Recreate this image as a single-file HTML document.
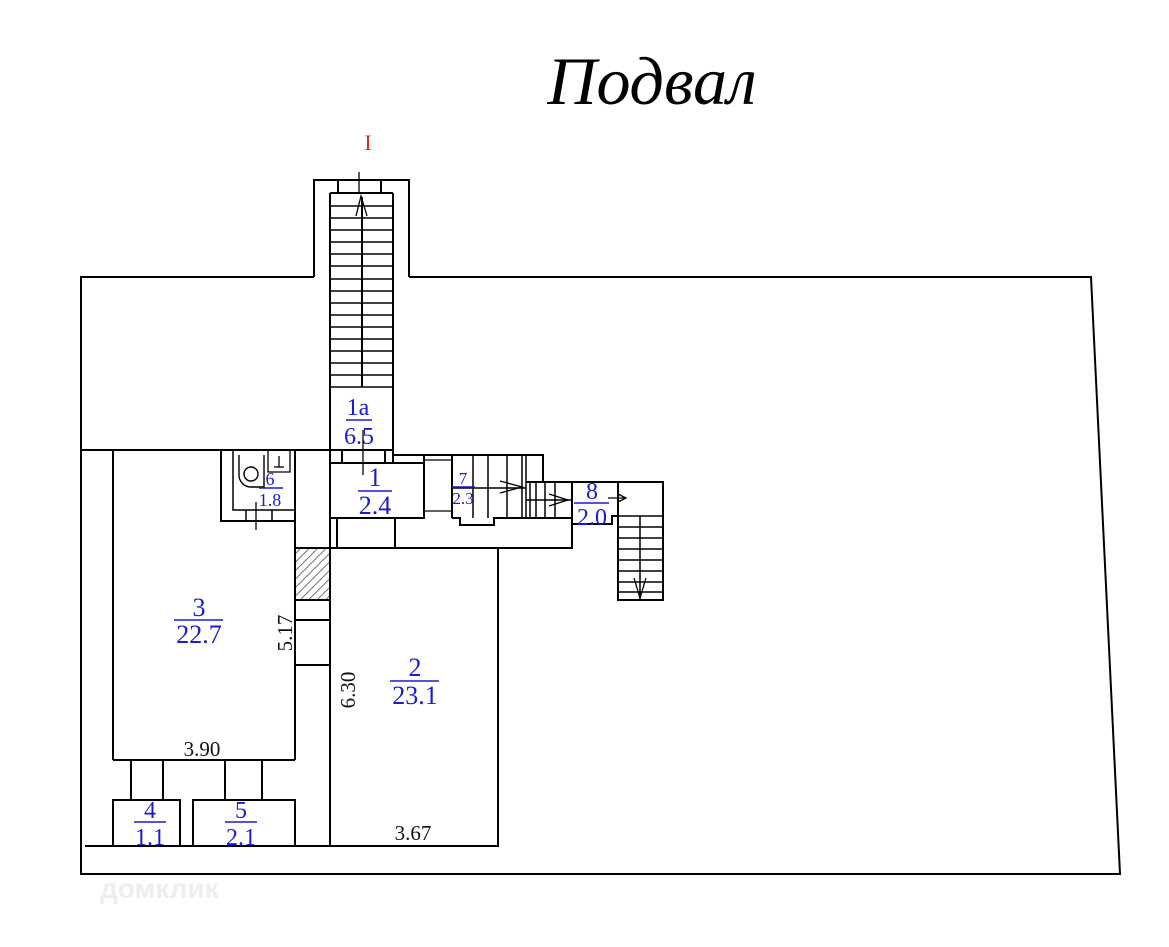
<!DOCTYPE html>
<html><head><meta charset="utf-8"><style>
html,body{margin:0;padding:0;background:#fff}
svg{display:block}
.b{font-family:"Liberation Serif",serif;fill:#1a1ad8;text-anchor:middle}
.k{font-family:"Liberation Serif",serif;fill:#111;text-anchor:middle}
</style></head><body>
<svg width="1169" height="947" viewBox="0 0 1169 947" xmlns="http://www.w3.org/2000/svg">
<defs><pattern id="h" width="6" height="6" patternUnits="userSpaceOnUse" patternTransform="rotate(45)"><line x1="0" y1="0" x2="0" y2="6" stroke="#222" stroke-width="1.3"/></pattern></defs>
<text x="652" y="104" font-family="Liberation Serif,serif" font-style="italic" font-size="68" text-anchor="middle" fill="#000">Подвал</text>
<text x="368" y="150" font-family="Liberation Serif,serif" font-size="22" text-anchor="middle" fill="#d0302a">I</text>
<g fill="none" stroke="#000" stroke-width="2">
<polyline points="409,277 1091,277 1120,874 81,874 81,277 314,277"/>
<line x1="81" y1="450" x2="330" y2="450"/>
<line x1="85" y1="846" x2="330" y2="846"/>
<polyline points="314,277 314,180 409,180 409,277"/>
<line x1="330" y1="193" x2="393" y2="193"/>
<line x1="330" y1="193" x2="330" y2="463"/>
<line x1="393" y1="193" x2="393" y2="463"/>
<line x1="338" y1="180" x2="338" y2="193"/><line x1="381" y1="180" x2="381" y2="193"/>
<line x1="362" y1="387" x2="362" y2="197"/>
<line x1="359" y1="172" x2="359" y2="193" stroke-width="1.3"/>
<polyline points="356,216 361,196 367,216" stroke-width="1.3"/>
<g stroke-width="1.6">
<line x1="330" y1="206" x2="393" y2="206"/><line x1="330" y1="218" x2="393" y2="218"/><line x1="330" y1="230" x2="393" y2="230"/><line x1="330" y1="242" x2="393" y2="242"/><line x1="330" y1="254" x2="393" y2="254"/><line x1="330" y1="266" x2="393" y2="266"/><line x1="330" y1="279" x2="393" y2="279"/><line x1="330" y1="291" x2="393" y2="291"/><line x1="330" y1="303" x2="393" y2="303"/><line x1="330" y1="315" x2="393" y2="315"/><line x1="330" y1="327" x2="393" y2="327"/><line x1="330" y1="339" x2="393" y2="339"/><line x1="330" y1="351" x2="393" y2="351"/><line x1="330" y1="363" x2="393" y2="363"/><line x1="330" y1="375" x2="393" y2="375"/><line x1="330" y1="387" x2="393" y2="387"/>
</g>
<line x1="330" y1="450" x2="393" y2="450"/>
<line x1="342" y1="450" x2="342" y2="463"/><line x1="385" y1="450" x2="385" y2="463"/>
<line x1="363" y1="430" x2="363" y2="475" stroke-width="1.3"/>
<polyline points="393,455 543,455 543,482"/>
<rect x="330" y="463" width="94" height="55"/>
<line x1="424" y1="455" x2="424" y2="518"/>
<line x1="452" y1="455" x2="452" y2="518"/>
<line x1="424" y1="460" x2="452" y2="460" stroke-width="1.3"/><line x1="424" y1="511" x2="452" y2="511" stroke-width="1.3"/>
<g stroke-width="1.5">
<line x1="473" y1="455" x2="473" y2="518"/><line x1="488" y1="455" x2="488" y2="518"/><line x1="507" y1="455" x2="507" y2="518"/><line x1="522" y1="455" x2="522" y2="518"/><line x1="526" y1="455" x2="526" y2="518"/>
<line x1="452" y1="488" x2="526" y2="488"/>
<line x1="530" y1="482" x2="530" y2="518"/><line x1="536" y1="482" x2="536" y2="518"/><line x1="545" y1="482" x2="545" y2="518"/><line x1="555" y1="482" x2="555" y2="518"/>
<line x1="526" y1="500" x2="572" y2="500"/>
</g>
<polyline points="452,518 460,518 460,525 494,525 494,518 526,518 572,518"/>
<polyline points="500,481 522,487 500,493" stroke-width="1.3"/>
<polyline points="549,494 568,500 549,506" stroke-width="1.3"/>
<polyline points="526,482 663,482 663,600 618,600 618,516 612,516 612,524 572,524 572,482"/>
<line x1="618" y1="482" x2="618" y2="516"/>
<line x1="612" y1="516" x2="663" y2="516" stroke-width="1.5"/>
<line x1="640" y1="516" x2="640" y2="600" stroke-width="1.5"/>
<g stroke-width="1.5">
<line x1="618" y1="527" x2="663" y2="527"/><line x1="618" y1="538" x2="663" y2="538"/><line x1="618" y1="549" x2="663" y2="549"/><line x1="618" y1="560" x2="663" y2="560"/><line x1="618" y1="571" x2="663" y2="571"/><line x1="618" y1="582" x2="663" y2="582"/><line x1="618" y1="592" x2="663" y2="592"/>
</g>
<polyline points="634,578 640,598 646,578" stroke-width="1.3"/>
<line x1="608" y1="498" x2="625" y2="498" stroke-width="1.3"/><polyline points="618,494 626,498 618,502" stroke-width="1.3"/>
<polyline points="337,518 337,548 572,548 572,518"/>
<line x1="395" y1="518" x2="395" y2="548"/>
<polyline points="330,548 498,548 498,846 330,846"/>
<line x1="330" y1="463" x2="330" y2="846"/>
<line x1="295" y1="450" x2="295" y2="760"/>
<rect x="295" y="548" width="35" height="52" fill="url(#h)"/>
<line x1="295" y1="620" x2="330" y2="620"/><line x1="295" y1="665" x2="330" y2="665"/>
<line x1="113" y1="450" x2="113" y2="760"/>
<line x1="113" y1="760" x2="295" y2="760"/>
<polyline points="221,450 221,521 295,521"/>
<polyline points="233,450 233,510 295,510" stroke-width="1.5"/>
<line x1="246" y1="510" x2="246" y2="521" stroke-width="1.5"/><line x1="272" y1="510" x2="272" y2="521" stroke-width="1.5"/>
<path d="M239,455 L239,475 A12,12 0 0 0 251,487 L264,487 L264,455" stroke-width="1.4"/>
<circle cx="251" cy="474" r="7" stroke-width="1.4"/>
<polyline points="268,450 268,472 290,472 290,450" stroke-width="1.3"/>
<line x1="279" y1="456" x2="279" y2="467" stroke-width="1.3"/><line x1="274" y1="467" x2="284" y2="467" stroke-width="1.3"/>
<line x1="256" y1="502" x2="256" y2="530" stroke-width="1.3"/>
<line x1="131" y1="760" x2="131" y2="800"/><line x1="163" y1="760" x2="163" y2="800"/>
<line x1="225" y1="760" x2="225" y2="800"/><line x1="262" y1="760" x2="262" y2="800"/>
<polyline points="113,846 113,800 180,800 180,846"/>
<polyline points="193,846 193,800 295,800 295,846"/>
</g>
<g class="b">
<text x="358" y="415" font-size="24">1а</text><line x1="346" y1="420" x2="372" y2="420" stroke="#1a1ad8" stroke-width="1.6"/><text x="359" y="444" font-size="24">6.5</text>
<text x="375" y="486" font-size="26">1</text><line x1="358" y1="491" x2="392" y2="491" stroke="#1a1ad8" stroke-width="1.6"/><text x="375" y="514" font-size="26">2.4</text>
<text x="463" y="484" font-size="17">7</text><line x1="452" y1="487" x2="475" y2="487" stroke="#1a1ad8" stroke-width="1.4"/><text x="463" y="504" font-size="17">2.3</text>
<text x="592" y="499" font-size="24">8</text><line x1="574" y1="503" x2="609" y2="503" stroke="#1a1ad8" stroke-width="1.6"/><text x="592" y="525" font-size="24">2.0</text>
<text x="270" y="485" font-size="18">6</text><line x1="259" y1="488" x2="283" y2="488" stroke="#1a1ad8" stroke-width="1.4"/><text x="270" y="506" font-size="18">1.8</text>
<text x="199" y="616" font-size="26">3</text><line x1="174" y1="620" x2="223" y2="620" stroke="#1a1ad8" stroke-width="1.6"/><text x="199" y="643" font-size="26">22.7</text>
<text x="415" y="676" font-size="26">2</text><line x1="390" y1="681" x2="439" y2="681" stroke="#1a1ad8" stroke-width="1.6"/><text x="415" y="704" font-size="26">23.1</text>
<text x="150" y="818" font-size="24">4</text><line x1="134" y1="822" x2="166" y2="822" stroke="#1a1ad8" stroke-width="1.6"/><text x="150" y="845" font-size="24">1.1</text>
<text x="241" y="818" font-size="24">5</text><line x1="225" y1="822" x2="257" y2="822" stroke="#1a1ad8" stroke-width="1.6"/><text x="241" y="845" font-size="24">2.1</text>
</g>
<g class="k" font-size="21">
<text x="202" y="756">3.90</text>
<text x="413" y="840">3.67</text>
<text transform="translate(292,633) rotate(-90)">5.17</text>
<text transform="translate(355,690) rotate(-90)">6.30</text>
</g>
<text x="100" y="898" font-family="Liberation Sans,sans-serif" font-weight="bold" font-size="28" fill="#eee">домклик</text>
</svg>
</body></html>
